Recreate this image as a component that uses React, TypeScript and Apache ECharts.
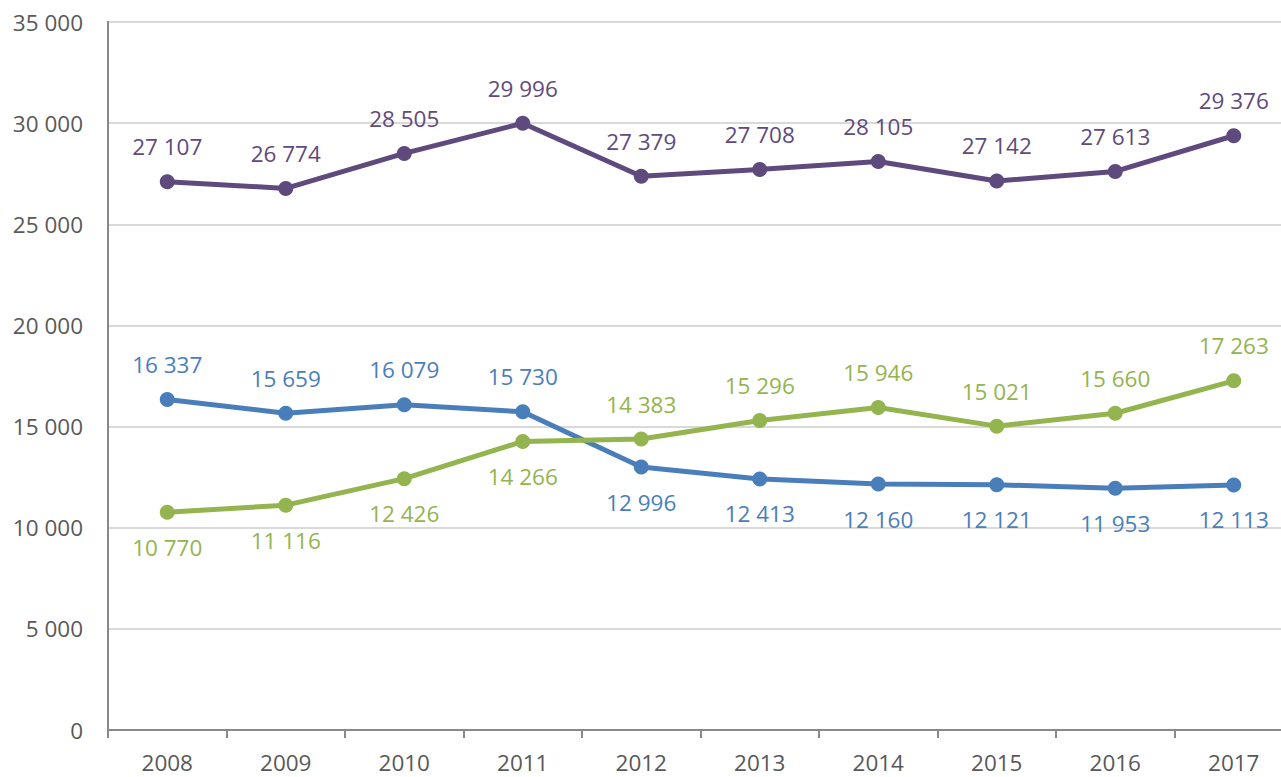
import React, { useEffect, useRef } from "react";
import * as echarts from "echarts";

const years = ["2008", "2009", "2010", "2011", "2012", "2013", "2014", "2015", "2016", "2017"];
const purpleValues = [27107, 26774, 28505, 29996, 27379, 27708, 28105, 27142, 27613, 29376];
const blueValues = [16337, 15659, 16079, 15730, 12996, 12413, 12160, 12121, 11953, 12113];
const greenValues = [10770, 11116, 12426, 14266, 14383, 15296, 15946, 15021, 15660, 17263];
const yTicks = [0, 5000, 10000, 15000, 20000, 25000, 30000, 35000];

const PURPLE = "#5f4a7e";
const BLUE = "#4a7ebb";
const GREEN = "#93b44f";
const FONT = "'Open Sans', 'Liberation Sans', sans-serif";

const fmt = (v: number) => String(v).replace(/\B(?=(\d{3})+(?!\d))/g, " ");

function series(name: string, values: number[], color: string, below: (i: number) => boolean) {
  return {
    name,
    type: "line",
    data: values.map((v, i) => ({
      value: v,
      label: { position: below(i) ? "bottom" : "top" },
    })),
    symbol: "circle",
    symbolSize: 15,
    lineStyle: { color, width: 5 },
    itemStyle: { color },
    label: {
      show: true,
      distance: 16,
      color,
      fontFamily: FONT,
      fontSize: 22.5,
      formatter: (p: any) => fmt(p.value),
    },
  };
}

export default function App() {
  const ref = useRef<HTMLDivElement>(null);
  useEffect(() => {
    if (!ref.current) return;
    const chart = echarts.init(ref.current, undefined, { renderer: "svg" });
    chart.setOption({
      animation: false,
      grid: {
        left: 108,
        top: 22,
        right: 7,
        bottom: 47,
        show: true,
        borderColor: "#898989",
        borderWidth: 2,
        backgroundColor: "transparent",
      },
      xAxis: {
        type: "category",
        data: years,
        boundaryGap: true,
        axisLine: { lineStyle: { color: "#898989", width: 2 } },
        axisTick: { show: true, length: 8, lineStyle: { color: "#898989", width: 2 } },
        axisLabel: { color: "#595959", fontFamily: FONT, fontSize: 22.5, margin: 21 },
      },
      yAxis: {
        type: "value",
        min: yTicks[0],
        max: yTicks[yTicks.length - 1],
        interval: yTicks[1] - yTicks[0],
        axisLine: { show: true, lineStyle: { color: "#898989", width: 2 } },
        axisTick: { show: false },
        splitLine: { lineStyle: { color: "#d9d9d9", width: 2 } },
        axisLabel: {
          color: "#595959",
          fontFamily: FONT,
          fontSize: 22.5,
          margin: 25,
          formatter: (v: number) => fmt(v),
        },
      },
      series: [
        series("purple", purpleValues, PURPLE, () => false),
        series("blue", blueValues, BLUE, (i) => i >= 4),
        series("green", greenValues, GREEN, (i) => i < 4),
      ],
    });
    return () => chart.dispose();
  }, []);
  return (
    <div
      ref={ref}
      style={{ position: "fixed", left: 0, top: 0, width: 1300, height: 777, background: "#fff" }}
    />
  );
}
